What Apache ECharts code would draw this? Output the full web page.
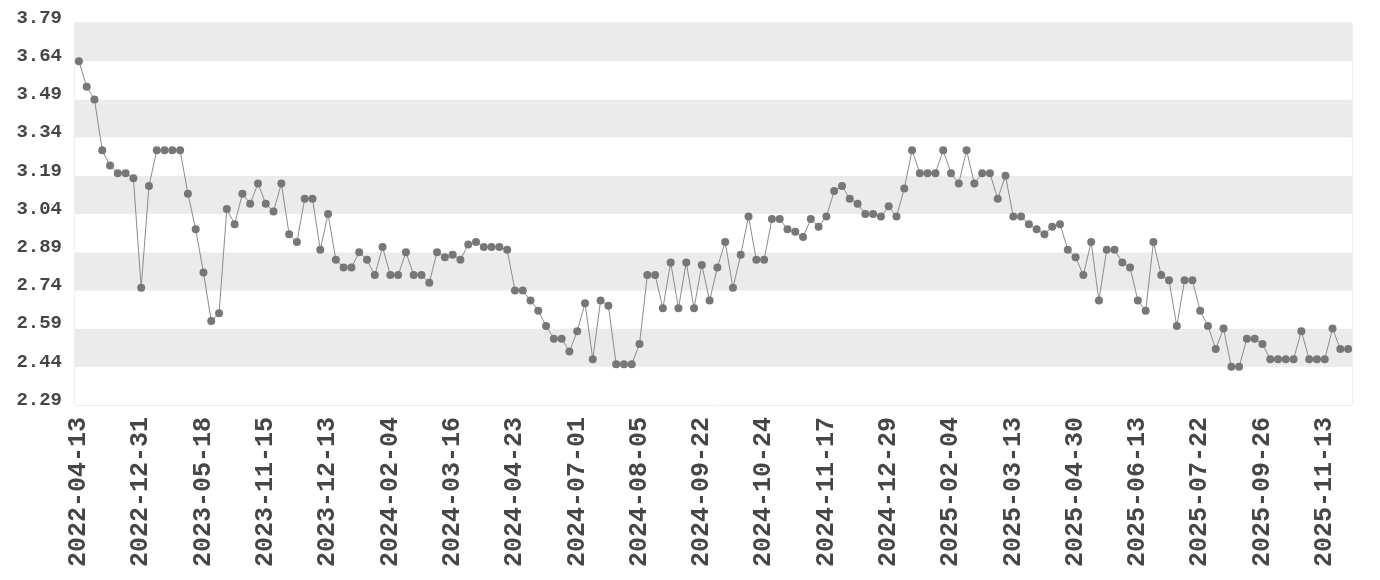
<!DOCTYPE html>
<html>
<head>
<meta charset="utf-8">
<script src="https://cdn.jsdelivr.net/npm/echarts@6/dist/echarts.min.js"></script>
<style>
html,body{margin:0;padding:0;background:#fff;}
#chart{width:1380px;height:580px;}
</style>
</head>
<body>
<div id="chart"></div>
<script>
// Visible tick labels (every 8th category)
const tickLabels = [
  "2022-04-13","2022-12-31","2023-05-18","2023-11-15","2023-12-13","2024-02-04",
  "2024-03-16","2024-04-23","2024-07-01","2024-08-05","2024-09-22","2024-10-24",
  "2024-11-17","2024-12-29","2025-02-04","2025-03-13","2025-04-30","2025-06-13",
  "2025-07-22","2025-09-26","2025-11-13"
];

// Series values
const values = [
  3.64,3.54,3.49,3.29,3.23,3.20,3.20,3.18,2.75,3.15,
  3.29,3.29,3.29,3.29,3.12,2.98,2.81,2.62,2.65,3.06,
  3.00,3.12,3.08,3.16,3.08,3.05,3.16,2.96,2.93,3.10,
  3.10,2.90,3.04,2.86,2.83,2.83,2.89,2.86,2.80,2.91,
  2.80,2.80,2.89,2.80,2.80,2.77,2.89,2.87,2.88,2.86,
  2.92,2.93,2.91,2.91,2.91,2.90,2.74,2.74,2.70,2.66,
  2.60,2.55,2.55,2.50,2.58,2.69,2.47,2.70,2.68,2.45,
  2.45,2.45,2.53,2.80,2.80,2.67,2.85,2.67,2.85,2.67,
  2.84,2.70,2.83,2.93,2.75,2.88,3.03,2.86,2.86,3.02,
  3.02,2.98,2.97,2.95,3.02,2.99,3.03,3.13,3.15,3.10,
  3.08,3.04,3.04,3.03,3.07,3.03,3.14,3.29,3.20,3.20,
  3.20,3.29,3.20,3.16,3.29,3.16,3.20,3.20,3.10,3.19,
  3.03,3.03,3.00,2.98,2.96,2.99,3.00,2.90,2.87,2.80,
  2.93,2.70,2.90,2.90,2.85,2.83,2.70,2.66,2.93,2.80,
  2.78,2.60,2.78,2.78,2.66,2.60,2.51,2.59,2.44,2.44,
  2.55,2.55,2.53,2.47,2.47,2.47,2.47,2.58,2.47,2.47,
  2.47,2.59,2.51,2.51
];

const labelStep = 8;
const yMin = 2.29, yMax = 3.79, yStep = 0.15;

// Category list: known tick labels at every 8th position, others unlabeled
const categories = values.map((v, i) => (i % labelStep === 0 && tickLabels[i / labelStep]) ? tickLabels[i / labelStep] : "");

const chart = echarts.init(document.getElementById('chart'), null, {renderer: 'canvas'});
const font = '"Liberation Mono", "DejaVu Sans Mono", monospace';
chart.setOption({
  animation: false,
  backgroundColor: '#ffffff',
  grid: {
    left: 75, right: 28, top: 23, bottom: 175,
    show: true, borderColor: '#dddddd', borderWidth: 1, backgroundColor: 'transparent'
  },
  xAxis: {
    type: 'category',
    data: categories,
    boundaryGap: true,
    axisLine: {show: false},
    axisTick: {show: false},
    splitLine: {show: false},
    axisLabel: {
      interval: labelStep - 1,
      rotate: 90,
      margin: 12,
      color: '#464646',
      fontFamily: font,
      fontWeight: 'bold',
      fontSize: 25
    }
  },
  yAxis: {
    type: 'value',
    min: yMin, max: yMax, interval: yStep,
    axisLine: {show: false},
    axisTick: {show: false},
    splitLine: {show: false},
    splitArea: {show: true, areaStyle: {color: ['#ffffff', '#ebebeb']}},
    axisLabel: {
      margin: 13,
      color: '#464646',
      fontFamily: font,
      fontWeight: 'bold',
      fontSize: 19,
      verticalAlign: 'bottom',
      lineHeight: 10,
      formatter: v => v.toFixed(2)
    }
  },
  series: [{
    type: 'line',
    data: values,
    symbol: 'circle',
    symbolSize: 8,
    showSymbol: true,
    showAllSymbol: true,
    lineStyle: {color: '#8c8c8c', width: 1},
    itemStyle: {color: '#777777'}
  }]
});
</script>
</body>
</html>
